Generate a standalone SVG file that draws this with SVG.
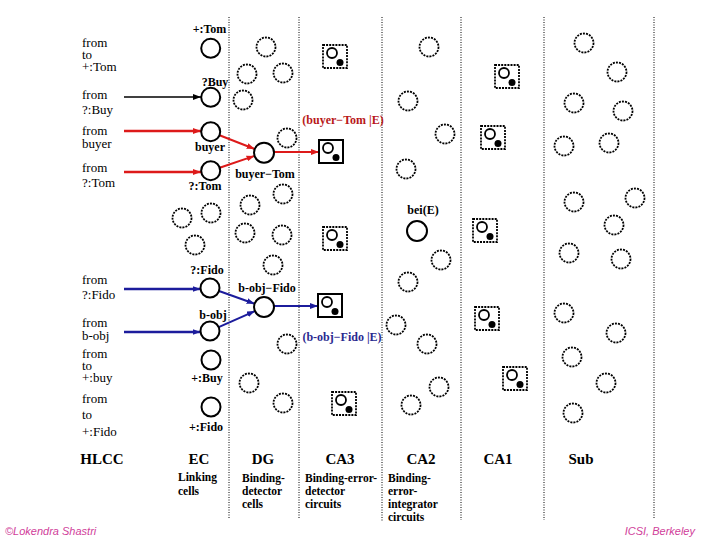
<svg xmlns="http://www.w3.org/2000/svg" width="720" height="540" viewBox="0 0 720 540">
<defs>
<style>
.col{stroke:#000;stroke-width:1;stroke-dasharray:1 1.5;fill:none}
.left{font-family:"Liberation Serif",serif;font-size:13px;fill:#000}
.lbl{font-family:"Liberation Serif",serif;font-size:12px;font-weight:bold;fill:#000;text-anchor:middle}
.area{font-family:"Liberation Serif",serif;font-size:15px;font-weight:bold;fill:#000;text-anchor:middle}
.desc{font-family:"Liberation Serif",serif;font-size:11.5px;font-weight:bold;fill:#000}
.node{fill:#fff;stroke:#000;stroke-width:2}
.idle{fill:none;stroke:#000;stroke-width:1.8;stroke-dasharray:2 1.1}
.box{fill:#fff;stroke:#000;stroke-width:1.8;stroke-dasharray:2 1.1}
.sbox{fill:#fff;stroke:#000;stroke-width:2}
.ic{fill:none;stroke:#000;stroke-width:1.8}
.dot{fill:#000}
.foot{font-family:"Liberation Sans",sans-serif;font-style:italic;font-size:11px;fill:#d0409a}
.red{stroke:#dd1a1a;fill:none}
.blue{stroke:#1c1c9c;fill:none}
.blk{stroke:#000;fill:none}
.rt{font-family:"Liberation Serif",serif;font-size:12px;font-weight:bold;fill:#b81818;text-anchor:middle}
.bt{font-family:"Liberation Serif",serif;font-size:12px;font-weight:bold;fill:#2a2a90;text-anchor:middle}
</style>
<marker id="mr" markerWidth="8" markerHeight="6" refX="8" refY="3" orient="auto" markerUnits="userSpaceOnUse"><path d="M0,0 L8,3 L0,6 z" fill="#dd1a1a"/></marker>
<marker id="mb" markerWidth="8" markerHeight="6" refX="8" refY="3" orient="auto" markerUnits="userSpaceOnUse"><path d="M0,0 L8,3 L0,6 z" fill="#1c1c9c"/></marker>
<marker id="mk" markerWidth="8" markerHeight="6" refX="8" refY="3" orient="auto" markerUnits="userSpaceOnUse"><path d="M0,0 L8,3 L0,6 z" fill="#000"/></marker>
<g id="cellD"><rect class="box" x="0" y="0" width="24" height="23"/><circle class="ic" cx="9" cy="8" r="5"/><circle class="dot" cx="17" cy="17.5" r="3.5"/></g>
<g id="cellS"><rect class="sbox" x="0" y="0" width="24" height="23"/><circle class="ic" cx="9" cy="8" r="5"/><circle class="dot" cx="17" cy="17.5" r="3.5"/></g>
</defs>
<rect width="720" height="540" fill="#fff"/>

<g id="columns">
<line class="col" x1="229" y1="17" x2="229" y2="518"/>
<line class="col" x1="299" y1="17" x2="299" y2="518"/>
<line class="col" x1="382" y1="17" x2="382" y2="521"/>
<line class="col" x1="461" y1="17" x2="461" y2="520"/>
<line class="col" x1="544" y1="17" x2="544" y2="520"/>
<line class="col" x1="654" y1="17" x2="654" y2="518"/>
</g>

<g id="hlcc-text">
<text class="left" x="82" y="46.5">from</text><text class="left" x="82" y="58.5">to</text><text class="left" x="82" y="70.5">+:Tom</text>
<text class="left" x="82" y="98.5">from</text><text class="left" x="82" y="113.5">?:Buy</text>
<text class="left" x="82" y="134.5">from</text><text class="left" x="82" y="147.5">buyer</text>
<text class="left" x="82" y="171.5">from</text><text class="left" x="82" y="187">?:Tom</text>
<text class="left" x="82" y="283.5">from</text><text class="left" x="82" y="298.5">?:Fido</text>
<text class="left" x="82" y="326.5">from</text><text class="left" x="82" y="339.5">b-obj</text>
<text class="left" x="82" y="358">from</text><text class="left" x="82" y="370">to</text><text class="left" x="82" y="382">+:buy</text>
<text class="left" x="82" y="402.5">from</text><text class="left" x="82" y="419">to</text><text class="left" x="82" y="436">+:Fido</text>
</g>

<g id="connectors">
<line class="blk" stroke-width="1.6" x1="124" y1="97" x2="201" y2="97" marker-end="url(#mk)"/>
<line class="red" stroke-width="2.6" x1="124" y1="131" x2="201" y2="131" marker-end="url(#mr)"/>
<line class="red" stroke-width="2.6" x1="124" y1="172" x2="201" y2="172" marker-end="url(#mr)"/>
<line class="red" stroke-width="2" x1="219.5" y1="135.2" x2="254.7" y2="149" marker-end="url(#mr)"/>
<line class="red" stroke-width="2" x1="219.7" y1="167.7" x2="254.5" y2="155.9" marker-end="url(#mr)"/>
<line class="red" stroke-width="2" x1="274" y1="152" x2="319" y2="152" marker-end="url(#mr)"/>
<line class="blue" stroke-width="2.6" x1="124" y1="289" x2="200.5" y2="289" marker-end="url(#mb)"/>
<line class="blue" stroke-width="2.6" x1="124" y1="332" x2="200.5" y2="332" marker-end="url(#mb)"/>
<line class="blue" stroke-width="2" x1="219" y1="291" x2="254.6" y2="303.7" marker-end="url(#mb)"/>
<line class="blue" stroke-width="2" x1="218.7" y1="327.1" x2="254.9" y2="311.1" marker-end="url(#mb)"/>
<line class="blue" stroke-width="2" x1="274" y1="306" x2="318" y2="306" marker-end="url(#mb)"/>
</g>

<g id="ec-nodes">
<g id="n-plusTom"><circle class="node" cx="210.7" cy="48.3" r="9.5"/><text class="lbl" x="209.5" y="33">+:Tom</text></g>
<g id="n-qBuy"><circle class="node" cx="210.7" cy="97.3" r="9.5"/><text class="lbl" x="215" y="86">?Buy</text></g>
<g id="n-buyer"><circle class="node" cx="210.7" cy="131.7" r="9.5"/><text class="lbl" x="210" y="151">buyer</text></g>
<g id="n-qTom"><circle class="node" cx="210.7" cy="170.7" r="9.5"/><text class="lbl" x="205" y="190">?:Tom</text></g>
<g id="n-qFido"><circle class="node" cx="210" cy="288" r="9.5"/><text class="lbl" x="207" y="274">?:Fido</text></g>
<g id="n-bobj"><circle class="node" cx="210" cy="331" r="9.5"/><text class="lbl" x="213" y="319">b-obj</text></g>
<g id="n-plusBuy"><circle class="node" cx="211" cy="360" r="9.5"/><text class="lbl" x="207" y="382">+:Buy</text></g>
<g id="n-plusFido"><circle class="node" cx="211" cy="407" r="9.5"/><text class="lbl" x="206" y="431">+:Fido</text></g>
<g id="ec-idle"><circle class="idle" cx="182" cy="218" r="9.5"/><circle class="idle" cx="211" cy="213" r="9.5"/><circle class="idle" cx="195" cy="245" r="9.5"/></g>
</g>

<g id="dg-nodes">
<g id="n-buyerTom"><circle class="node" cx="264" cy="152.7" r="10"/><text class="lbl" x="265" y="178">buyer−Tom</text></g>
<g id="n-bobjFido"><circle class="node" cx="264" cy="307" r="10"/><text class="lbl" x="267" y="292">b-obj−Fido</text></g>
<g id="dg-idle">
<circle class="idle" cx="266" cy="47" r="9.5"/><circle class="idle" cx="247" cy="74" r="9.5"/><circle class="idle" cx="283" cy="73" r="9.5"/>
<circle class="idle" cx="243" cy="100" r="9.5"/><circle class="idle" cx="287" cy="138" r="9.5"/><circle class="idle" cx="283" cy="194" r="9.5"/>
<circle class="idle" cx="250" cy="205" r="9.5"/><circle class="idle" cx="245" cy="233" r="9.5"/><circle class="idle" cx="282" cy="235" r="9.5"/>
<circle class="idle" cx="273" cy="265" r="9.5"/><circle class="idle" cx="287" cy="344" r="9.5"/><circle class="idle" cx="249" cy="383" r="9.5"/>
<circle class="idle" cx="283" cy="403" r="9.5"/>
</g>
</g>

<g id="ca3-nodes">
<use href="#cellD" x="323" y="45"/>
<g id="n-errTom"><use href="#cellS" x="319" y="140"/><text class="rt" x="343" y="124">(buyer−Tom |E)</text></g>
<use href="#cellD" x="323" y="227"/>
<g id="n-errFido"><use href="#cellS" x="318" y="294"/><text class="bt" x="342" y="341">(b-obj−Fido |E)</text></g>
<use href="#cellD" x="332" y="392"/>
</g>

<g id="ca2-nodes">
<g id="n-bei"><circle class="node" cx="417" cy="231" r="10"/><text class="lbl" x="423" y="214">bei(E)</text></g>
<circle class="idle" cx="429" cy="47" r="9.5"/><circle class="idle" cx="408" cy="101" r="9.5"/><circle class="idle" cx="445" cy="134" r="9.5"/>
<circle class="idle" cx="406" cy="169" r="9.5"/><circle class="idle" cx="441" cy="260" r="9.5"/><circle class="idle" cx="408" cy="282" r="9.5"/>
<circle class="idle" cx="396" cy="325" r="9.5"/><circle class="idle" cx="427" cy="344" r="9.5"/><circle class="idle" cx="439" cy="387" r="9.5"/>
<circle class="idle" cx="411" cy="405" r="9.5"/>
</g>

<g id="ca1-nodes">
<use href="#cellD" x="495" y="65"/>
<use href="#cellD" x="481" y="126"/>
<use href="#cellD" x="473" y="219"/>
<use href="#cellD" x="475" y="307"/>
<use href="#cellD" x="503" y="367"/>
</g>

<g id="sub-nodes">
<circle class="idle" cx="584" cy="43" r="9.5"/><circle class="idle" cx="617" cy="72" r="9.5"/><circle class="idle" cx="574" cy="103" r="9.5"/>
<circle class="idle" cx="623" cy="111" r="9.5"/><circle class="idle" cx="564" cy="146" r="9.5"/><circle class="idle" cx="609" cy="143" r="9.5"/>
<circle class="idle" cx="574" cy="202" r="9.5"/><circle class="idle" cx="635" cy="198" r="9.5"/><circle class="idle" cx="614" cy="225" r="9.5"/>
<circle class="idle" cx="569" cy="253" r="9.5"/><circle class="idle" cx="621" cy="259" r="9.5"/><circle class="idle" cx="564" cy="313" r="9.5"/>
<circle class="idle" cx="616" cy="333" r="9.5"/><circle class="idle" cx="572" cy="357" r="9.5"/><circle class="idle" cx="606" cy="383" r="9.5"/>
<circle class="idle" cx="573" cy="413" r="9.5"/>
</g>

<g id="area-labels">
<text class="area" x="102" y="464">HLCC</text>
<text class="area" x="199" y="464">EC</text>
<text class="area" x="263" y="464">DG</text>
<text class="area" x="340" y="464">CA3</text>
<text class="area" x="421" y="464">CA2</text>
<text class="area" x="498" y="464">CA1</text>
<text class="area" x="581" y="464">Sub</text>
<text class="desc" x="178" y="481">Linking</text><text class="desc" x="178" y="495">cells</text>
<text class="desc" x="242" y="482">Binding-</text><text class="desc" x="242" y="495">detector</text><text class="desc" x="242" y="508">cells</text>
<text class="desc" x="305" y="482">Binding-error-</text><text class="desc" x="305" y="495">detector</text><text class="desc" x="305" y="508">circuits</text>
<text class="desc" x="388" y="482">Binding-</text><text class="desc" x="388" y="495">error-</text><text class="desc" x="388" y="508">integrator</text><text class="desc" x="388" y="521">circuits</text>
</g>

<g id="footer">
<text class="foot" x="5" y="535">©Lokendra Shastri</text>
<text class="foot" x="695" y="535" text-anchor="end">ICSI, Berkeley</text>
</g>
</svg>
